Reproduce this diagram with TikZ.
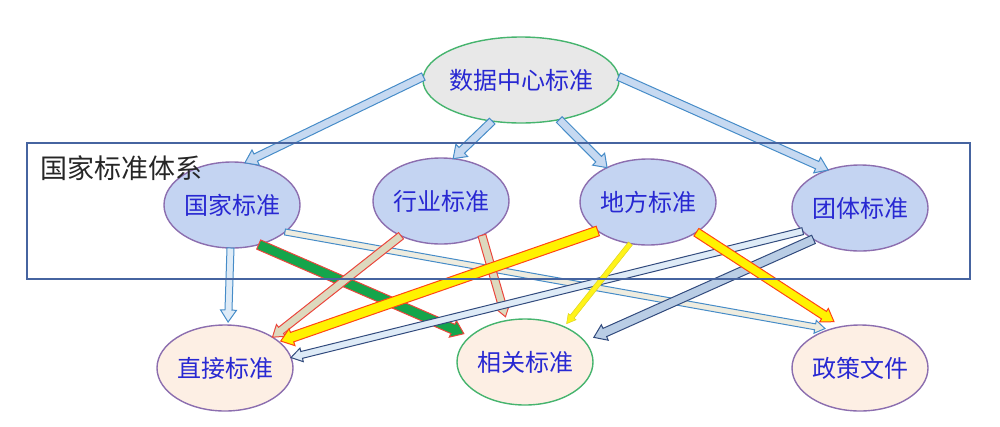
\documentclass[tikz,border=0pt]{standalone}
\usepackage{fontspec}
\setmainfont{Noto Sans CJK SC}
\usetikzlibrary{shapes.geometric,calc}
\definecolor{txtblue}{RGB}{40,40,210}
\definecolor{upfill}{RGB}{196,212,242}
\definecolor{peach}{RGB}{253,239,228}
\definecolor{purp}{RGB}{140,110,175}
\definecolor{grn}{RGB}{70,180,110}
\definecolor{topgray}{RGB}{232,232,232}
\definecolor{arblue}{RGB}{70,140,200}
\definecolor{arfill}{RGB}{198,217,241}
\definecolor{palefill}{RGB}{222,235,247}
\definecolor{beige}{RGB}{221,217,190}
\definecolor{redb}{RGB}{235,70,60}
\definecolor{orb}{RGB}{255,70,20}
\definecolor{dkblue}{RGB}{50,75,125}
\definecolor{midfill}{RGB}{185,205,229}
\definecolor{boxblue}{RGB}{70,100,160}
\definecolor{brgreen}{RGB}{20,165,75}
\newcommand\blkarrow[7]{%
  \path ($(#3)!#7!(#2)$) coordinate (bt);
  \path ($(bt)!#6!(#2)$) coordinate (bh);
  \filldraw[#1] ($(#2)!#4!90:(bt)$) -- ($(bh)!#4!90:(bt)$) -- ($(bh)!#5!90:(bt)$)
    -- (bt) -- ($(bh)!#5!-90:(bt)$) -- ($(bh)!#4!-90:(bt)$) -- ($(#2)!#4!-90:(bt)$) -- cycle;
}
\begin{document}
\begin{tikzpicture}[x=1pt,y=-1pt,
  ell/.style={ellipse, minimum width=136pt, minimum height=86pt, inner sep=0pt, outer sep=0pt,
    line width=1.4pt, font=\fontsize{24}{28}\selectfont, text=txtblue},
  upper/.style={ell, fill=upfill, draw=purp},
  lower/.style={ell, fill=peach, draw=purp},
  arw/.style={line width=1pt, line join=miter},
  topar/.style={arw, fill=arfill, draw=arblue},
  paleb/.style={arw, fill=palefill, draw=arblue},
  greenar/.style={arw, fill=brgreen, draw=redb},
  beigear/.style={arw, fill=beige, draw=redb},
  greyar/.style={arw, fill=beige!50, draw=arblue},
  yellar/.style={arw, fill=yellow, draw=orb},
  thinyell/.style={arw, fill=yellow!90!white, draw=yellow!85!black, line width=0.5pt},
  dkpale/.style={arw, fill=palefill, draw=dkblue},
  dkmid/.style={arw, fill=midfill, draw=dkblue}
]
\useasboundingbox (0,0) rectangle (1000,426);
% nodes
\node[ell, fill=topgray, draw=grn, minimum width=196pt, inner xsep=-3pt] (sj) at (521,80) {数据中心标准};
\node[upper] (gj) at (232,205) {国家标准};
\node[upper] (hy) at (441,201) {行业标准};
\node[upper] (df) at (648,202) {地方标准};
\node[upper] (tt) at (860,208) {团体标准};
\node[lower] (zj) at (225,368) {直接标准};
\node[ell, fill=peach, draw=grn] (xg) at (525,362) {相关标准};
\node[lower] (zc) at (860,368) {政策文件};
% top arrows
\blkarrow{topar}{sj.178}{gj.73}{4pt}{8.5pt}{12pt}{0pt}
\blkarrow{topar}{sj.235}{hy.74}{4pt}{8.5pt}{12pt}{0pt}
\blkarrow{topar}{sj.314}{df.140}{4pt}{8.5pt}{12pt}{0pt}
\blkarrow{topar}{sj.2}{tt.130}{4pt}{8.5pt}{12pt}{0pt}
% lower arrows
\blkarrow{greyar}{gj.-27}{zc.128}{3pt}{6.5pt}{10pt}{5pt}
\blkarrow{paleb}{gj.-92}{zj.86}{3.5pt}{8pt}{12pt}{3pt}
\blkarrow{greenar}{gj.-56}{xg.155}{5pt}{9pt}{12pt}{7pt}
\blkarrow{beigear}{hy.221}{zj.33}{4pt}{7.5pt}{11pt}{0pt}
\blkarrow{beigear}{hy.-40}{xg.114}{4pt}{7.5pt}{11pt}{4pt}
\blkarrow{yellar}{df.210}{zj.26}{5pt}{9pt}{12pt}{2pt}
\blkarrow{dkpale}{tt.202}{zj.9}{3.5pt}{7pt}{11pt}{0pt}
\blkarrow{dkmid}{tt.214}{xg.19}{4.5pt}{8.5pt}{12pt}{10pt}
\blkarrow{thinyell}{df.247}{xg.42}{2.5pt}{5pt}{9pt}{4pt}
\blkarrow{yellar}{df.-32}{zc.114}{4.5pt}{8pt}{12pt}{9pt}
% system box
\node[draw=boxblue, line width=1.2pt, inner sep=0pt, outer sep=0pt, minimum width=943pt, minimum height=136pt, anchor=north west] (box) at (27,143) {};
\node[anchor=west, inner sep=0pt, text=black!85, font=\fontsize{27}{30}\selectfont] (boxlbl) at (40,168) {国家标准体系};
\end{tikzpicture}
\end{document}
